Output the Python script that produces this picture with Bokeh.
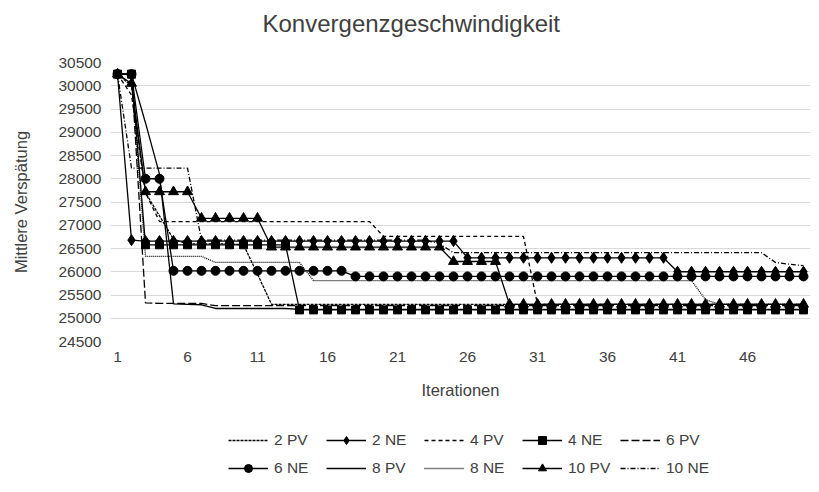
from bokeh.plotting import figure
from bokeh.layouts import column
from bokeh.models import Range1d, FixedTicker, Legend, LegendItem
from bokeh.embed import file_html
from bokeh.resources import INLINE

iterations = [1, 2, 3, 4, 5, 6, 7, 8, 9, 10, 11, 12, 13, 14, 15, 16, 17, 18, 19, 20,
              21, 22, 23, 24, 25, 26, 27, 28, 29, 30, 31, 32, 33, 34, 35, 36, 37, 38, 39, 40,
              41, 42, 43, 44, 45, 46, 47, 48, 49, 50]

pv2 = [30250, 30000, 27700, 27200, 26700, 26600, 26600, 26600, 26600, 26580,
       25950, 25300, 25300, 25300, 25300, 25300, 25300, 25300, 25300, 25300,
       25300, 25300, 25300, 25300, 25300, 25300, 25300, 25300, 25300, 25300,
       25300, 25300, 25300, 25300, 25300, 25300, 25300, 25300, 25300, 25300,
       25300, 25300, 25300, 25300, 25300, 25300, 25300, 25300, 25300, 25300]
ne2 = [30250, 26680, 26660, 26660, 26660, 26660, 26660, 26660, 26660, 26660,
       26660, 26660, 26660, 26660, 26660, 26660, 26660, 26660, 26660, 26660,
       26660, 26660, 26660, 26660, 26660, 26300, 26300, 26300, 26300, 26300,
       26300, 26300, 26300, 26300, 26300, 26300, 26300, 26300, 26300, 26300,
       26000, 26000, 26000, 26000, 26000, 26000, 26000, 26000, 26000, 26000]
pv4 = [30250, 29800, 27700, 27080, 27080, 27080, 27080, 27080, 27080, 27080,
       27080, 27080, 27080, 27080, 27080, 27080, 27080, 27080, 27080, 26760,
       26760, 26760, 26760, 26760, 26760, 26760, 26760, 26760, 26760, 26760,
       25300, 25300, 25300, 25300, 25300, 25300, 25300, 25300, 25300, 25300,
       25300, 25300, 25300, 25300, 25300, 25300, 25300, 25300, 25300, 25300]
ne4 = [30250, 30250, 26580, 26580, 26580, 26580, 26580, 26580, 26580, 26580,
       26580, 26580, 26580, 25180, 25180, 25180, 25180, 25180, 25180, 25180,
       25180, 25180, 25180, 25180, 25180, 25180, 25180, 25180, 25180, 25180,
       25180, 25180, 25180, 25180, 25180, 25180, 25180, 25180, 25180, 25180,
       25180, 25180, 25180, 25180, 25180, 25180, 25180, 25180, 25180, 25180]
pv6 = [30250, 30250, 25330, 25320, 25320, 25320, 25320, 25270, 25270, 25270,
       25270, 25270, 25270, 25270, 25270, 25270, 25270, 25270, 25270, 25270,
       25270, 25270, 25270, 25270, 25270, 25270, 25270, 25270, 25270, 25270,
       25270, 25270, 25270, 25270, 25270, 25270, 25270, 25270, 25270, 25270,
       25270, 25270, 25270, 25270, 25270, 25270, 25270, 25270, 25270, 25270]
ne6 = [30250, 30250, 28000, 28000, 26020, 26020, 26020, 26020, 26020, 26020,
       26020, 26020, 26020, 26020, 26020, 26020, 26020, 25900, 25900, 25900,
       25900, 25900, 25900, 25900, 25900, 25900, 25900, 25900, 25900, 25900,
       25900, 25900, 25900, 25900, 25900, 25900, 25900, 25900, 25900, 25900,
       25900, 25900, 25900, 25900, 25900, 25900, 25900, 25900, 25900, 25900]
pv8 = [30250, 30250, 29200, 28100, 25310, 25300, 25290, 25210, 25210, 25210,
       25210, 25210, 25210, 25190, 25190, 25190, 25190, 25190, 25190, 25190,
       25190, 25190, 25190, 25190, 25190, 25190, 25190, 25190, 25190, 25190,
       25190, 25190, 25190, 25190, 25190, 25190, 25190, 25190, 25190, 25190,
       25190, 25190, 25190, 25190, 25190, 25190, 25190, 25190, 25190, 25190]
ne8 = [30250, 30250, 26330, 26330, 26330, 26330, 26330, 26200, 26200, 26200,
       26200, 26200, 26200, 26200, 25810, 25810, 25810, 25810, 25810, 25810,
       25810, 25810, 25810, 25810, 25810, 25810, 25810, 25810, 25810, 25810,
       25810, 25810, 25810, 25810, 25810, 25810, 25810, 25810, 25810, 25810,
       25810, 25810, 25400, 25300, 25300, 25300, 25300, 25300, 25300, 25300]
pv10 = [30250, 30050, 27720, 27720, 27720, 27720, 27150, 27150, 27150, 27150,
        27150, 26530, 26530, 26530, 26530, 26530, 26530, 26530, 26530, 26530,
        26530, 26530, 26530, 26530, 26220, 26220, 26220, 26220, 25300, 25300,
        25300, 25300, 25300, 25300, 25300, 25300, 25300, 25300, 25300, 25300,
        25300, 25300, 25300, 25300, 25300, 25300, 25300, 25300, 25300, 25300]
ne10 = [30250, 28230, 28230, 28230, 28230, 28230, 26680, 26680, 26680, 26680,
        26680, 26680, 26680, 26680, 26680, 26680, 26680, 26680, 26680, 26680,
        26680, 26680, 26680, 26600, 26410, 26410, 26410, 26410, 26410, 26410,
        26410, 26410, 26410, 26410, 26410, 26410, 26410, 26410, 26410, 26410,
        26410, 26410, 26410, 26410, 26410, 26410, 26410, 26200, 26160, 26130]

series_names = ["2 PV", "2 NE", "4 PV", "4 NE", "6 PV", "6 NE", "8 PV", "8 NE", "10 PV", "10 NE"]
x_tick_values = [1, 6, 11, 16, 21, 26, 31, 36, 41, 46]
y_tick_values = [24500, 25000, 25500, 26000, 26500, 27000, 27500, 28000, 28500, 29000,
                 29500, 30000, 30500]

FONT = "Liberation Sans"
TXT = "#404040"


def bare(fig):
    fig.outline_line_color = None
    fig.background_fill_color = "white"
    fig.border_fill_color = "white"


# ---- header strip with the chart title ----
hf = figure(width=812, height=50, output_backend="svg", toolbar_location=None,
            x_range=Range1d(0, 1), y_range=Range1d(0, 1),
            x_axis_location=None, y_axis_location=None,
            min_border_top=0, min_border_bottom=0, min_border_left=110, min_border_right=2)
bare(hf)
hf.grid.visible = False
hf.title.text = "Konvergenzgeschwindigkeit"
hf.title.align = "left"
hf.title.offset = 152
hf.title.text_font = FONT
hf.title.text_font_style = "normal"
hf.title.text_font_size = "24px"
hf.title.text_color = TXT
hf.title.standoff = 14

# ---- main chart ----
p = figure(width=812, height=360, output_backend="svg", toolbar_location=None,
           x_range=Range1d(0.5, 50.5), y_range=Range1d(24500, 30500),
           min_border_left=110, min_border_right=2, min_border_top=12,
           min_border_bottom=69)
bare(p)

xa = p.xaxis[0]
ya = p.yaxis[0]
xa.ticker = FixedTicker(ticks=x_tick_values)
ya.ticker = FixedTicker(ticks=y_tick_values)
for ax in (xa, ya):
    ax.axis_line_color = None
    ax.major_tick_line_color = None
    ax.minor_tick_line_color = None
    ax.major_tick_out = 0
    ax.major_tick_in = 0
    ax.minor_tick_out = 0
    ax.major_label_text_font = FONT
    ax.major_label_text_font_size = "15.5px"
    ax.major_label_text_color = TXT
    ax.axis_label_text_font = FONT
    ax.axis_label_text_font_size = "16.5px"
    ax.axis_label_text_font_style = "normal"
    ax.axis_label_text_color = TXT

xa.axis_label = "Iterationen"
ya.axis_label = "Mittlere Verspätung"
xa.major_label_standoff = 10
xa.axis_label_standoff = 16
ya.major_label_standoff = 9
ya.axis_label_standoff = 25

p.xgrid.visible = False
p.ygrid.ticker = FixedTicker(ticks=y_tick_values)
p.ygrid.grid_line_color = "#d9d9d9"
p.ygrid.grid_line_width = 1

data = [pv2, ne2, pv4, ne4, pv6, ne6, pv8, ne8, pv10, ne10]
dashes = ["3 1", "solid", "4 3", "solid", "8 3", "solid", "solid", "1 1", "solid", "5 2 1 2"]
markers = [None, "diamond", None, "square", None, "circle", None, None, "triangle", None]
msizes = [0, 11, 0, 8, 0, 9, 0, 0, 10, 0]

for ys, dash, mk, ms in zip(data, dashes, markers, msizes):
    p.line(iterations, ys, line_color="black", line_width=1.3, line_dash=dash)
    if mk is not None:
        p.scatter(iterations, ys, marker=mk, size=ms, fill_color="black", line_color="black")

# ---- legend strip (its own copies of the series lie outside its view) ----
lf = figure(width=812, height=76, output_backend="svg", toolbar_location=None,
            x_range=Range1d(0, 1), y_range=Range1d(0, 1),
            x_axis_location=None, y_axis_location=None,
            min_border_left=110, min_border_right=2, min_border_top=0, min_border_bottom=0)
bare(lf)
lf.grid.visible = False

items = []
for name, ys, dash, mk, ms in zip(series_names, data, dashes, markers, msizes):
    rs = [lf.line(iterations, ys, line_color="black", line_width=1.3, line_dash=dash)]
    if mk is not None:
        rs.append(lf.scatter(iterations, ys, marker=mk, size=ms, fill_color="black",
                             line_color="black"))
    items.append(LegendItem(label=name, renderers=rs))

legend = Legend(items=items, orientation="horizontal", ncols=5,
                location=(118, 8), glyph_width=40, glyph_height=20,
                label_height=20, label_width=44, label_standoff=6, spacing=8,
                padding=0, margin=0, border_line_color=None,
                background_fill_alpha=0, label_text_font=FONT,
                label_text_font_size="15.5px", label_text_color=TXT)
lf.add_layout(legend, "center")

layout = column(hf, p, lf, spacing=0)
open("out.html", "w").write(file_html(layout, INLINE))
